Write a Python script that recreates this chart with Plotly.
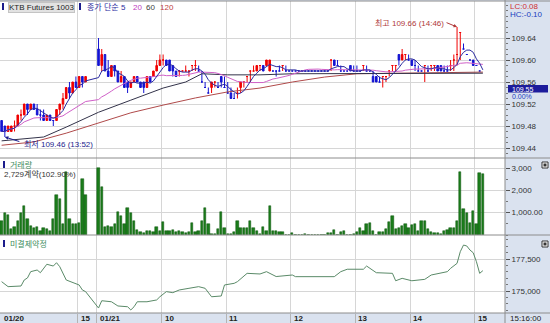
import plotly.graph_objects as go
from plotly.subplots import make_subplots
import pandas as pd

# ---------------- data ----------------
# slot index of each 3-minute bar (01/20 afternoon, then 01/21 session)
bar_pos = list(range(0, 27)) + list(range(30, 150))

opens = [109.49,109.48,109.47,109.47,109.48,109.48,109.50,109.50,109.52,109.51,109.52,109.51,109.50,109.50,109.49,109.50,109.49,109.49,109.51,109.52,109.53,109.55,109.54,109.56,109.55,109.57,109.56,
         109.62,109.59,109.61,109.58,109.57,109.59,109.58,109.56,109.57,109.56,109.55,109.56,109.57,109.56,109.56,109.55,109.57,109.57,109.58,109.59,
         109.60,109.60,109.60,109.59,109.58,109.58,109.58,109.58,109.58,109.59,109.59,109.58,109.56,109.55,109.54,109.55,109.56,109.55,109.57,109.55,
         109.54,109.54,109.53,109.54,109.55,109.56,109.57,109.58,109.58,109.58,109.59,109.59,109.59,109.58,109.58,109.58,109.58,109.59,
         109.58,109.58,109.58,109.58,109.58,109.58,109.58,109.58,109.58,109.58,109.58,109.58,109.58,
         109.58,109.60,109.60,109.59,109.58,109.58,109.58,109.59,109.58,109.58,109.58,109.59,109.58,109.58,109.57,109.57,109.56,109.57,
         109.57,109.58,109.59,109.59,109.61,109.60,109.61,109.60,109.60,109.59,109.58,109.58,109.59,109.58,109.59,109.59,109.59,109.59,
         109.58,109.58,109.59,109.60,109.61,109.65,109.62,109.61,109.60,109.60,109.59,109.58]
highs = [109.49,109.48,109.48,109.48,109.49,109.50,109.51,109.52,109.52,109.52,109.52,109.52,109.51,109.51,109.50,109.50,109.49,109.51,109.52,109.54,109.55,109.56,109.56,109.57,109.57,109.57,109.57,
         109.64,109.62,109.61,109.60,109.59,109.59,109.58,109.58,109.57,109.56,109.56,109.57,109.57,109.56,109.56,109.57,109.57,109.58,109.60,109.61,
         109.61,109.60,109.60,109.59,109.58,109.58,109.58,109.59,109.58,109.59,109.60,109.59,109.58,109.56,109.55,109.56,109.56,109.56,109.56,109.57,
         109.56,109.55,109.54,109.55,109.56,109.56,109.57,109.58,109.59,109.59,109.59,109.59,109.60,109.60,109.58,109.58,109.59,109.59,
         109.59,109.58,109.58,109.58,109.58,109.58,109.58,109.58,109.58,109.58,109.58,109.58,109.58,
         109.58,109.60,109.60,109.60,109.59,109.58,109.58,109.58,109.59,109.59,109.58,109.59,109.59,109.58,109.58,109.57,109.57,109.57,
         109.57,109.58,109.59,109.59,109.60,109.62,109.61,109.61,109.60,109.60,109.59,109.58,109.59,109.59,109.59,109.59,109.59,109.59,
         109.59,109.59,109.60,109.61,109.66,109.65,109.63,109.61,109.60,109.60,109.59,109.58]
lows = [109.47,109.46,109.47,109.47,109.47,109.48,109.49,109.50,109.50,109.51,109.51,109.50,109.49,109.49,109.49,109.49,109.48,109.49,109.50,109.51,109.53,109.53,109.54,109.55,109.55,109.55,109.56,
        109.59,109.58,109.58,109.57,109.57,109.57,109.56,109.56,109.55,109.54,109.55,109.56,109.56,109.55,109.54,109.55,109.56,109.57,109.58,109.59,
        109.59,109.59,109.58,109.57,109.57,109.57,109.58,109.58,109.57,109.58,109.58,109.58,109.56,109.55,109.54,109.54,109.55,109.55,109.55,109.55,
        109.54,109.53,109.53,109.53,109.54,109.55,109.56,109.56,109.58,109.58,109.58,109.58,109.59,109.59,109.58,109.57,109.58,109.58,
        109.58,109.58,109.58,109.58,109.58,109.58,109.58,109.58,109.58,109.58,109.58,109.58,109.58,
        109.58,109.58,109.59,109.59,109.58,109.58,109.58,109.58,109.58,109.58,109.58,109.58,109.58,109.58,109.56,109.56,109.56,109.55,
        109.56,109.57,109.58,109.58,109.59,109.61,109.60,109.60,109.59,109.58,109.58,109.58,109.56,109.58,109.58,109.58,109.58,109.58,
        109.58,109.58,109.58,109.58,109.59,109.60,109.62,109.61,109.60,109.59,109.59,109.58,109.55]
closes = [109.47,109.47,109.48,109.48,109.48,109.50,109.50,109.52,109.51,109.52,109.51,109.50,109.50,109.49,109.50,109.49,109.49,109.51,109.52,109.53,109.55,109.54,109.56,109.55,109.57,109.56,109.57,
          109.59,109.61,109.58,109.57,109.59,109.58,109.56,109.57,109.55,109.55,109.56,109.57,109.56,109.55,109.55,109.57,109.56,109.58,109.59,109.60,
          109.60,109.59,109.58,109.58,109.57,109.58,109.58,109.58,109.58,109.59,109.59,109.58,109.56,109.55,109.54,109.56,109.56,109.55,109.56,109.55,
          109.54,109.53,109.53,109.54,109.56,109.56,109.57,109.58,109.58,109.59,109.59,109.58,109.60,109.60,109.58,109.58,109.58,109.59,
          109.58,109.58,109.58,109.58,109.58,109.58,109.58,109.58,109.58,109.58,109.58,109.58,109.58,109.58,
          109.60,109.59,109.59,109.58,109.58,109.58,109.58,109.58,109.58,109.58,109.59,109.58,109.58,109.56,109.56,109.56,109.57,
          109.57,109.58,109.59,109.59,109.60,109.61,109.61,109.60,109.59,109.59,109.58,109.58,109.59,109.58,109.59,109.59,109.58,109.58,
          109.58,109.58,109.59,109.60,109.61,109.65,109.62,109.61,109.60,109.59,109.59,109.58,109.55]

volumes = [640,970,910,270,340,640,1000,1300,700,400,300,340,180,300,270,180,700,1800,1600,500,2800,700,480,480,520,2500,1800,
           3000,2140,360,400,360,480,1040,860,480,1230,1000,640,230,120,80,200,200,120,340,200,
           580,200,200,230,150,200,150,100,150,530,120,200,640,1210,480,60,60,280,1040,300,
           60,60,150,640,300,300,300,640,330,200,60,360,180,1320,180,180,120,120,
           0,0,90,0,0,0,30,0,0,0,0,0,0,
           80,80,220,0,120,180,0,0,60,120,300,180,500,550,180,0,120,120,
           270,600,870,270,330,400,480,330,450,480,180,640,640,270,120,80,80,60,
           180,210,300,300,640,2830,1160,1000,550,1090,480,2770,2729]

# moving averages 60 / 120 (bar slot, value)
ma60_pos = [0, 13, 20, 30, 40, 50, 57, 62, 70, 80, 90, 110, 130, 149]
ma60_val = [109.453, 109.460, 109.478, 109.505, 109.527, 109.549, 109.560, 109.575,
            109.573, 109.573, 109.575, 109.575, 109.575, 109.576]
ma120_pos = [0, 10, 20, 30, 40, 50, 60, 70, 80, 90, 100, 110, 120, 130, 140, 149]
ma120_val = [109.445, 109.451, 109.467, 109.485, 109.504, 109.518, 109.531, 109.542,
             109.549, 109.560, 109.569, 109.575, 109.576, 109.577, 109.578, 109.578]

# open interest (bar slot, contracts)
oi_pos = [0,2,6,7,8,9,11,12,14,16,17,18,20,24,25,26,
          30,31,34,36,39,40,41,42,45,48,49,51,53,55,58,61,63,65,68,69,72,73,76,80,82,85,90,91,
          103,105,107,112,113,116,121,122,124,127,131,133,138,139,141,142,143,144,145,146,147,148,149]
oi_val = [175730,175340,175390,175860,176020,176510,176640,176430,177090,176950,177210,176900,175860,175470,175080,174950,
          173670,174240,174160,173830,173770,173520,173770,174160,174160,174300,174550,174950,174870,175080,175210,175340,
          175210,174550,174610,175470,175600,175730,176380,176330,176510,176130,176250,176120,
          176120,176510,176700,176700,176950,176430,176380,175800,175990,175800,175910,176250,176510,176770,177160,178070,
          178590,178520,178200,177990,177290,176380,176590]

hour_first_bar = [24, 30, 50, 70, 90, 110, 127, 147]
hour_labels = ["15", "01/21", "10", "11", "12", "13", "14", "15"]
price_ticks = [109.44, 109.48, 109.52, 109.56, 109.60, 109.64]
vol_ticks = [1000, 2000, 3000]
vol_ticktext = ["1,000.00", "2,000", "3,000"]
oi_ticks = [175000, 177500]
oi_ticktext = ["175,000", "177,500"]

# ---------------- geometry ----------------
W, H = 550, 323
ML, MR, MT, MB = 0, 45, 1, 10
PW = W - ML - MR
PH = H - MT - MB


def fx(x):
    return (x - ML) / PW


def fy(y):
    return (H - MB - y) / PH


FONT = "Liberation Sans, Arial, Noto Sans CJK KR, sans-serif"
GRID = "#d6d6d6"
BAND = "#dae2ef"
SEP = "#8c8c8c"

close_s = pd.Series(closes)
ma5 = close_s.rolling(5, min_periods=1).mean().round(4).tolist()
ma20 = close_s.rolling(20, min_periods=1).mean().round(4).tolist()

fig = make_subplots(rows=3, cols=1, shared_xaxes=True, vertical_spacing=0)

fig.add_trace(go.Candlestick(
    x=bar_pos, open=opens, high=highs, low=lows, close=closes,
    increasing=dict(line=dict(color="#f00000", width=1), fillcolor="#f00000"),
    decreasing=dict(line=dict(color="#1414d2", width=1), fillcolor="#1414d2"),
    whiskerwidth=0, showlegend=False, hoverinfo="skip"), row=1, col=1)
fig.add_trace(go.Scatter(x=ma120_pos, y=ma120_val, mode="lines",
                         line=dict(color="#b04a4a", width=1), showlegend=False), row=1, col=1)
fig.add_trace(go.Scatter(x=ma60_pos, y=ma60_val, mode="lines",
                         line=dict(color="#33334a", width=1), showlegend=False), row=1, col=1)
fig.add_trace(go.Scatter(x=bar_pos, y=ma20, mode="lines",
                         line=dict(color="#d060c8", width=1), showlegend=False), row=1, col=1)
fig.add_trace(go.Scatter(x=bar_pos, y=ma5, mode="lines",
                         line=dict(color="#2b2ba0", width=1), showlegend=False), row=1, col=1)

fig.add_trace(go.Bar(x=bar_pos, y=volumes, width=0.72,
                     marker=dict(color="#1b7d1b", line=dict(color="#0b520b", width=0.5)),
                     showlegend=False), row=2, col=1)

fig.add_trace(go.Scatter(x=oi_pos, y=oi_val, mode="lines",
                         line=dict(color="#5a8a68", width=1), showlegend=False), row=3, col=1)

xr = [-0.5, PW / 3.23 - 0.5]
tv = [b - 0.5 for b in hour_first_bar]
for ax in ["xaxis", "xaxis2", "xaxis3"]:
    d = dict(range=xr, tickvals=tv, showticklabels=False, showgrid=True, gridcolor=GRID,
             gridwidth=1, zeroline=False, showline=False, fixedrange=True)
    if ax == "xaxis3":
        d.update(ticks="outside", ticklen=10, tickcolor="#b4b4b4", tickwidth=1)
    else:
        d.update(ticks="")
    fig.layout[ax].update(**d)
fig.layout.xaxis.rangeslider.visible = False

tickfont = dict(family=FONT, size=8, color="#333333")
fig.update_layout(
    yaxis=dict(domain=[fy(158), fy(1)], range=[109.64 - 120 / 550, 109.64 + 37 / 550],
               side="right", tickvals=price_ticks, ticktext=[f"{v:.2f}" for v in price_ticks],
               ticks="outside", ticklen=4, tickcolor="#555", tickfont=tickfont,
               gridcolor=GRID, zeroline=False, showline=False,
               minor=dict(ticks="outside", ticklen=2, tickcolor="#777", dtick=0.01, showgrid=False)),
    yaxis2=dict(domain=[fy(235), fy(158)], range=[0, 77 / 22.33 * 1000],
                side="right", tickvals=vol_ticks, ticktext=vol_ticktext,
                ticks="outside", ticklen=4, tickcolor="#555", tickfont=tickfont,
                gridcolor=GRID, zeroline=False, showline=False,
                minor=dict(ticks="outside", ticklen=2, tickcolor="#777", dtick=500, showgrid=False)),
    yaxis3=dict(domain=[fy(313), fy(235)], range=[175000 - 22 * 78.125, 177500 + 24 * 78.125],
                side="right", tickvals=oi_ticks, ticktext=oi_ticktext,
                ticks="outside", ticklen=4, tickcolor="#555", tickfont=tickfont,
                gridcolor=GRID, zeroline=False, showline=False,
                minor=dict(ticks="outside", ticklen=2, tickcolor="#777", dtick=500, showgrid=False)),
)

shapes = []
for yy in [fy(158), fy(235), fy(313), fy(1)]:
    shapes.append(dict(type="line", xref="paper", yref="paper", x0=0, x1=fx(W), y0=yy, y1=yy,
                       line=dict(color=SEP, width=1)))
shapes.append(dict(type="line", xref="paper", yref="paper", x0=1, x1=1, y0=fy(H), y1=fy(0),
                   line=dict(color=SEP, width=1)))
# navy marker bars in panel titles
for (x0, y0) in [(2, 3), (79, 3), (3, 161), (3, 240)]:
    shapes.append(dict(type="rect", xref="paper", yref="paper", x0=fx(x0), x1=fx(x0 + 2),
                       y0=fy(y0 + 7), y1=fy(y0), fillcolor="#1c1c8c", line=dict(width=0)))
# small panel buttons on the right
for y0 in [162, 241]:
    shapes.append(dict(type="rect", xref="paper", yref="paper", x0=fx(542), x1=fx(548),
                       y0=fy(y0 + 6), y1=fy(y0), fillcolor="#ffffff", line=dict(color="#333", width=1)))
    shapes.append(dict(type="rect", xref="paper", yref="paper", x0=fx(543.5), x1=fx(546.5),
                       y0=fy(y0 + 4.5), y1=fy(y0 + 1.5), fillcolor="#333", line=dict(width=0)))
# current-price box on the price axis
shapes.append(dict(type="rect", xref="paper", yref="paper", x0=fx(508), x1=fx(548),
                   y0=fy(92.5), y1=fy(85), fillcolor="#1c1c9c", line=dict(width=0)))
fig.update_layout(shapes=shapes)


def txt(x, y, s, color="#222", anchor="left", size=8, bg=None, bold=False):
    d = dict(xref="paper", yref="paper", x=fx(x), y=fy(y), text=(f"<b>{s}</b>" if bold else s),
             showarrow=False, xanchor=anchor, yanchor="middle",
             font=dict(family=FONT, size=size, color=color))
    if bg:
        d.update(bgcolor=bg, borderpad=0)
    return d


ann = [
    dict(txt(8, 7, "KTB Futures 1003", "#222", bg="#e2e2e2"), bordercolor="#c4c4c4", borderwidth=1),
    txt(85, 7, "종가 단순 5", "#2b2ba0"),
    txt(131, 7, "20", "#c040c0"),
    txt(144, 7, "60", "#404040"),
    txt(158, 7, "120", "#c04040"),
    txt(508, 6, "LC:0.08", "#d03030"),
    txt(508, 15, "HC:-0.10", "#2040c0"),
    txt(510, 89, "109.55", "#ffffff", size=7),
    txt(510, 96.5, "0.00%", "#2040c0", size=7),
    txt(446, 23, "최고 109.66 (14:46)", "#b03a3a", anchor="right"),
    txt(22, 144, "최저 109.46 (13:52)", "#1c1c8c"),
    txt(8, 165, "거래량", "#3c8c5c"),
    txt(2, 174, "2,729계약(102.90%)", "#333"),
    txt(8, 244, "미결제약정", "#3c8c5c"),
    txt(2, 318, "01/20", "#222", bold=True),
    txt(508, 318, "15:16:00", "#222"),
]
for b, lab in zip(hour_first_bar, hour_labels):
    ann.append(dict(xref="x3", yref="paper", x=b - 0.5, y=fy(318), text=f"<b>{lab}</b>",
                    showarrow=False, xanchor="left", yanchor="middle", xshift=1,
                    font=dict(family=FONT, size=8, color="#222")))
# arrows to session high / low
hi_i = highs.index(max(highs))
lo_i = lows.index(min(lows))
ann.append(dict(xref="x", yref="y", x=bar_pos[hi_i], y=highs[hi_i], text="", showarrow=True,
                ax=-12, ay=-5, arrowhead=2, arrowsize=0.7, arrowwidth=1, arrowcolor="#b03a3a"))
ann.append(dict(xref="x", yref="y", x=bar_pos[lo_i], y=lows[lo_i], text="", showarrow=True,
                ax=16, ay=5, arrowhead=2, arrowsize=0.7, arrowwidth=1, arrowcolor="#1c1c8c"))
fig.update_layout(annotations=ann)

fig.update_layout(
    width=W, height=H, autosize=False,
    margin=dict(l=ML, r=MR, t=MT, b=MB, pad=0),
    paper_bgcolor=BAND, plot_bgcolor="#ffffff",
    showlegend=False, bargap=0, hovermode=False,
    font=dict(family=FONT, size=8, color="#222"),
)

fig.write_html("out.html")
